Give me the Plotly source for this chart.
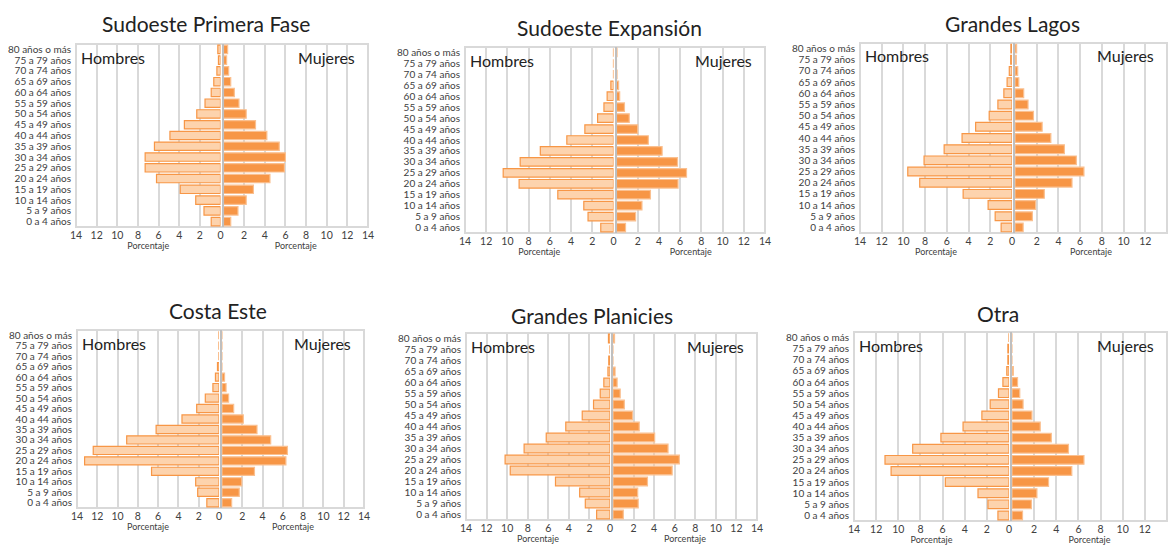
import plotly.graph_objects as go

# ─── Data (porcentaje de la población, de "0 a 4 años" hacia arriba) ───────
EDADES = [
    "0 a 4 años", "5 a 9 años", "10 a 14 años", "15 a 19 años", "20 a 24 años",
    "25 a 29 años", "30 a 34 años", "35 a 39 años", "40 a 44 años", "45 a 49 años",
    "50 a 54 años", "55 a 59 años", "60 a 64 años", "65 a 69 años", "70 a 74 años",
    "75 a 79 años", "80 años o más",
]

SPF_HOMBRES = [0.9, 1.6, 2.4, 3.9, 6.2, 7.3, 7.3, 6.4, 4.9, 3.5, 2.3, 1.5, 0.9, 0.65, 0.35, 0.2, 0.26]
SPF_MUJERES = [0.7, 1.4, 2.2, 2.9, 4.5, 5.9, 6.0, 5.4, 4.2, 3.1, 2.2, 1.5, 1.05, 0.7, 0.5, 0.3, 0.4]

SEX_HOMBRES = [1.2, 2.4, 2.8, 5.25, 8.9, 10.4, 8.8, 6.9, 4.4, 2.7, 1.5, 0.9, 0.6, 0.25, 0, 0, 0]
SEX_MUJERES = [0.85, 1.8, 2.4, 3.2, 5.8, 6.6, 5.75, 4.3, 3.0, 2.0, 1.2, 0.75, 0.3, 0.2, 0.05, 0, 0.05]

GL_HOMBRES = [1.0, 1.55, 2.2, 4.5, 8.5, 9.6, 8.1, 6.25, 4.6, 3.35, 2.1, 1.3, 0.75, 0.45, 0.25, 0.12, 0.1]
GL_MUJERES = [0.75, 1.6, 1.9, 2.7, 5.25, 6.35, 5.65, 4.55, 3.3, 2.5, 1.7, 1.2, 0.8, 0.35, 0.25, 0.12, 0.15]

CE_HOMBRES = [1.2, 2.1, 2.3, 6.65, 13.25, 12.4, 9.1, 6.2, 3.65, 2.2, 1.35, 0.6, 0.35, 0.15, 0, 0, 0]
CE_MUJERES = [0.95, 1.7, 1.95, 3.2, 6.3, 6.45, 4.8, 3.45, 2.1, 1.15, 0.65, 0.4, 0.25, 0, 0, 0, 0]

GP_HOMBRES = [1.3, 2.4, 2.95, 5.3, 9.7, 10.2, 8.35, 6.2, 4.3, 2.7, 1.6, 0.95, 0.6, 0.2, 0.12, 0, 0.15]
GP_MUJERES = [1.0, 2.45, 2.4, 3.35, 5.75, 6.45, 5.35, 4.05, 2.55, 1.9, 1.1, 0.7, 0.4, 0.2, 0, 0, 0.15]

OT_HOMBRES = [1.0, 1.9, 2.8, 5.75, 10.65, 11.2, 8.7, 6.15, 4.15, 2.45, 1.7, 0.95, 0.55, 0.2, 0.1, 0.1, 0]
OT_MUJERES = [0.95, 1.75, 2.25, 3.3, 5.4, 6.5, 5.1, 3.55, 2.55, 1.8, 1.0, 0.7, 0.5, 0.12, 0, 0, 0]

TITULOS = ["Sudoeste Primera Fase", "Sudoeste Expansión", "Grandes Lagos",
           "Costa Este", "Grandes Planicies", "Otra"]
TICKS_IZQ = [0, 2, 4, 6, 8, 10, 12, 14]
TICKS_DER = [2, 4, 6, 8, 10, 12, 14]

# ─── Style ───────────────────────────────────────────────────────────────
W, H = 1170, 550
FONT = "Lato, 'Open Sans', sans-serif"
TEXT = "#333333"
GRID = "#D9D9D9"
CENTER = "#BFBFBF"
H_FILL, H_LINE = "#FDD3AD", "#F79646"
M_FILL, M_LINE = "#F79646", "#FAC090"

# plot box in pixels: x0, x1, top, bottom ; title centre: x, y
CAJAS = [
    (76, 368, 44, 227), (465, 765, 47, 233), (860, 1167, 43, 233),
    (77, 364, 330, 508), (466, 757, 333, 520), (854, 1167, 332, 521),
]
TIT_POS = [(206, 23), (609, 28), (1012, 23), (218, 310), (592, 315), (998, 313)]

SERIES = list(zip(
    TITULOS,
    [SPF_HOMBRES, SEX_HOMBRES, GL_HOMBRES, CE_HOMBRES, GP_HOMBRES, OT_HOMBRES],
    [SPF_MUJERES, SEX_MUJERES, GL_MUJERES, CE_MUJERES, GP_MUJERES, OT_MUJERES],
))


def sid(n):
    return "" if n == 1 else str(n)


fig = go.Figure()
layout = {}
shapes, annotations = [], []

for i, ((titulo, hombres, mujeres), (x0, x1, yt, yb), (tx, ty)) in enumerate(
        zip(SERIES, CAJAS, TIT_POS)):
    kl, kr = 2 * i + 1, 2 * i + 2
    mid = (x0 + x1) / 2
    dom_l = [x0 / W, (mid - 1.5) / W]
    dom_r = [(mid + 1.5) / W, x1 / W]
    dom_y = [1 - yb / H, 1 - yt / H]

    fig.add_trace(go.Bar(
        y=EDADES, x=hombres, orientation="h", name="Hombres",
        xaxis="x" + sid(kl), yaxis="y" + sid(kl),
        marker=dict(color=H_FILL, line=dict(color=H_LINE, width=1.2)),
        showlegend=False,
    ))
    fig.add_trace(go.Bar(
        y=EDADES, x=mujeres, orientation="h", name="Mujeres",
        xaxis="x" + sid(kr), yaxis="y" + sid(kr),
        marker=dict(color=M_FILL, line=dict(color=M_LINE, width=1.2)),
        showlegend=False,
    ))

    xcommon = dict(
        showgrid=True, gridcolor=GRID, gridwidth=1.6, zeroline=False,
        showline=False, ticks="", fixedrange=True, automargin=False,
        tickmode="array",
        tickfont=dict(size=10.5, color="#404040"),
        title=dict(text="Porcentaje", font=dict(size=9, color="#404040"), standoff=3),
    )
    layout["xaxis" + sid(kl)] = dict(
        xcommon, domain=dom_l, range=[14, 0], anchor="y" + sid(kl),
        tickvals=TICKS_IZQ)
    layout["xaxis" + sid(kr)] = dict(
        xcommon, domain=dom_r, range=[0, 14], anchor="y" + sid(kr),
        tickvals=TICKS_DER)
    layout["yaxis" + sid(kl)] = dict(
        domain=dom_y, anchor="x" + sid(kl), type="category",
        categoryarray=EDADES, range=[-0.5, 16.5], showgrid=False,
        zeroline=False, ticks="", ticklabelstandoff=4, automargin=False,
        tickmode="array", tickvals=EDADES, ticktext=EDADES,
        tickfont=dict(size=10, color="#404040"))
    layout["yaxis" + sid(kr)] = dict(
        domain=dom_y, anchor="x" + sid(kr), type="category",
        categoryarray=EDADES, range=[-0.5, 16.5], showgrid=False,
        zeroline=False, showticklabels=False, ticks="", automargin=False,
        showline=True, linecolor=CENTER, linewidth=2)

    # frame round both halves
    shapes.append(dict(
        type="rect", xref="paper", yref="paper",
        x0=x0 / W, x1=x1 / W, y0=dom_y[0], y1=dom_y[1],
        line=dict(color=GRID, width=2), layer="below"))

    annotations += [
        dict(text=titulo, xref="paper", yref="paper", x=tx / W, y=1 - ty / H,
             showarrow=False, xanchor="center", yanchor="middle",
             font=dict(size=21, color="#222222")),
        dict(text="Hombres", xref="paper", yref="paper", x=(x0 + 3) / W,
             y=1 - (yt + 13) / H, showarrow=False, xanchor="left",
             yanchor="middle", font=dict(size=16, color="#222222")),
        dict(text="Mujeres", xref="paper", yref="paper", x=(x1 - 11) / W,
             y=1 - (yt + 13) / H, showarrow=False, xanchor="right",
             yanchor="middle", font=dict(size=16, color="#222222")),
    ]

fig.update_layout(
    width=W, height=H,
    margin=dict(l=0, r=0, t=0, b=0),
    paper_bgcolor="white", plot_bgcolor="white",
    font=dict(family=FONT, color=TEXT),
    bargap=0.22,
    shapes=shapes, annotations=annotations,
    **layout,
)

# the page body has a default 8px margin; drop it so the figure fills the window
fig.write_html("out.html", config={"displayModeBar": False},
               post_script="document.body.style.margin='0';")
